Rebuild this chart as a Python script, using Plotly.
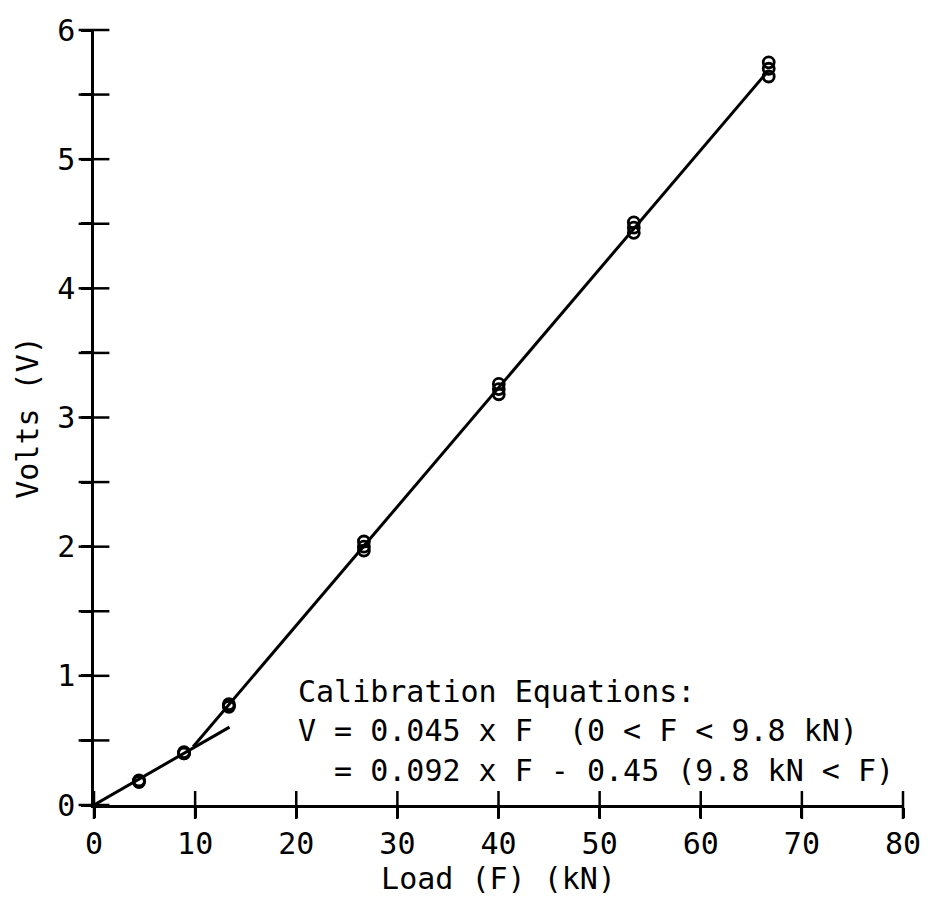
import plotly.graph_objects as go

# ---- data ----
load_kN = [4.45, 8.90, 13.34, 26.69, 40.03, 53.38, 66.72]
volts_run1 = [0.19, 0.41, 0.78, 2.04, 3.26, 4.51, 5.75]
volts_run2 = [0.18, 0.40, 0.77, 2.00, 3.22, 4.47, 5.70]
volts_run3 = [0.18, 0.40, 0.76, 1.97, 3.18, 4.43, 5.64]

# calibration fits: V = a*F + b
fit1_slope, fit1_icpt, fit1_range = 0.045, 0.0, [0.0, 13.4]
fit2_slope, fit2_icpt, fit2_range = 0.092, -0.45, [9.8, 66.7]

x_ticks = [0, 10, 20, 30, 40, 50, 60, 70, 80]
y_ticks = [0, 1, 2, 3, 4, 5, 6]
y_all_ticks = [0, 0.5, 1, 1.5, 2, 2.5, 3, 3.5, 4, 4.5, 5, 5.5, 6]

eq_lines = [
    "Calibration Equations:",
    "V = 0.045 x F\u00a0\u00a0(0 &lt; F &lt; 9.8 kN)",
    "\u00a0\u00a0= 0.092 x F - 0.45 (9.8 kN &lt; F)",
]

FONT = "DejaVu Sans Mono"
fig = go.Figure()

for f_slope, f_icpt, f_rng in [(fit1_slope, fit1_icpt, fit1_range),
                              (fit2_slope, fit2_icpt, fit2_range)]:
    fig.add_trace(go.Scatter(
        x=f_rng, y=[f_slope * v + f_icpt for v in f_rng],
        mode="lines", line=dict(color="black", width=3),
        showlegend=False, hoverinfo="skip"))

for run in (volts_run1, volts_run2, volts_run3):
    fig.add_trace(go.Scatter(
        x=load_kN, y=run, mode="markers",
        marker=dict(symbol="circle-open", size=11, color="black",
                    line=dict(width=2.8, color="black")),
        showlegend=False))

# crossing tick marks centred on the axes (plotter style)
fig.add_trace(go.Scatter(
    x=x_ticks, y=[0] * len(x_ticks), mode="markers", cliponaxis=False,
    marker=dict(symbol="line-ns-open", size=20, color="black",
                line=dict(width=2.5, color="black")),
    showlegend=False, hoverinfo="skip"))
fig.add_trace(go.Scatter(
    x=[0] * len(y_all_ticks), y=y_all_ticks, mode="markers", cliponaxis=False,
    marker=dict(symbol="line-ew-open", size=22, color="black",
                line=dict(width=2.5, color="black")),
    showlegend=False, hoverinfo="skip"))

for i, txt in enumerate(eq_lines):
    fig.add_annotation(x=20, y=0.88 - 0.305 * i, xref="x", yref="y",
                       text=txt, showarrow=False, xanchor="left",
                       yanchor="middle",
                       font=dict(family=FONT, size=30, color="black"))

axis_common = dict(showgrid=False, zeroline=False, showline=True,
                   linecolor="black", linewidth=2.5,
                   tickcolor="black", tickwidth=2.5, ticklen=10)

fig.update_layout(
    width=933, height=902,
    margin=dict(l=94, r=20, t=23, b=97),
    paper_bgcolor="white", plot_bgcolor="white",
    font=dict(family=FONT, size=30, color="black"),
    xaxis=dict(range=[0, 80], tickvals=x_ticks, ticks="outside",
               title=dict(text="Load (F) (kN)", standoff=6,
                          font=dict(family=FONT, size=30)),
               tickfont=dict(family=FONT, size=30), **axis_common),
    yaxis=dict(range=[0, 6], tickvals=y_ticks, ticks="outside",
               minor=dict(dtick=0.5, ticks="outside", ticklen=10,
                          tickwidth=2.5, tickcolor="black"),
               title=dict(text="Volts (V)", standoff=10,
                          font=dict(family=FONT, size=30)),
               tickfont=dict(family=FONT, size=30), **axis_common),
)

fig.write_html("out.html")
